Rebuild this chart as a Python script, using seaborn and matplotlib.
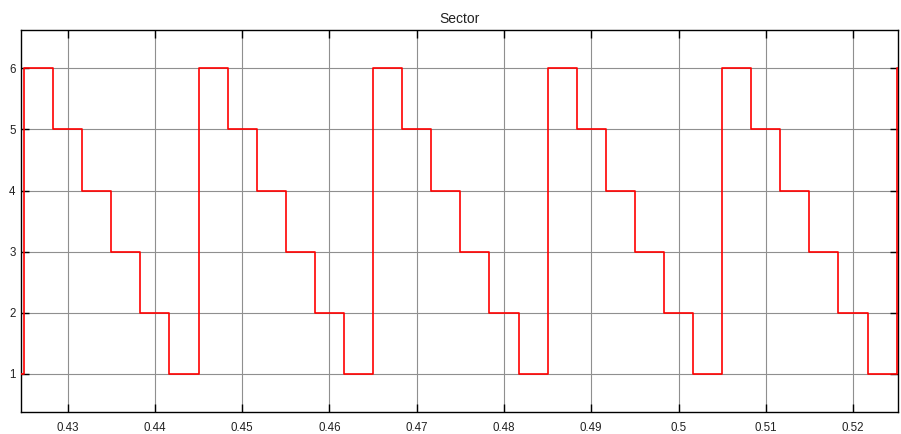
import matplotlib
matplotlib.use("Agg")
import matplotlib.pyplot as plt
import seaborn as sns
import pandas as pd

# Switching instants (s) and the sector index held from each instant on
t_switch = [0.4246, 0.4250, 0.42833, 0.43167, 0.4350, 0.43833, 0.44167,
            0.4450, 0.44833, 0.45167, 0.4550, 0.45833, 0.46167,
            0.4650, 0.46833, 0.47167, 0.4750, 0.47833, 0.48167,
            0.4850, 0.48833, 0.49167, 0.4950, 0.49833, 0.50167,
            0.5050, 0.50833, 0.51167, 0.5150, 0.51833, 0.52167,
            0.5250, 0.5252]
sector = [1, 6, 5, 4, 3, 2, 1,
          6, 5, 4, 3, 2, 1,
          6, 5, 4, 3, 2, 1,
          6, 5, 4, 3, 2, 1,
          6, 5, 4, 3, 2, 1,
          6, 6]

x_ticks = [0.43, 0.44, 0.45, 0.46, 0.47, 0.48, 0.49, 0.50, 0.51, 0.52]
x_tick_labels = ["0.43", "0.44", "0.45", "0.46", "0.47", "0.48", "0.49", "0.5", "0.51", "0.52"]
y_ticks = [1, 2, 3, 4, 5, 6]

df = pd.DataFrame({"t": t_switch, "sector": sector})

sns.set_theme(style="white")
plt.rcParams["font.family"] = ["Liberation Sans", "DejaVu Sans"]

fig = plt.figure(figsize=(9.01, 4.34), dpi=100)
ax = fig.add_axes([20.5 / 901, 22 / 434, 877.5 / 901, 382 / 434])

sns.lineplot(data=df, x="t", y="sector", ax=ax, color="#ff0000",
             linewidth=1.2, drawstyle="steps-post", estimator=None,
             sort=False, zorder=3)

ax.set_xlim(0.4246, 0.52515)
ax.set_ylim(0.378, 6.627)
ax.set_xticks(x_ticks)
ax.set_xticklabels(x_tick_labels)
ax.set_yticks(y_ticks)
ax.set_xlabel("")
ax.set_ylabel("")

ax.grid(True, color="#8f8f8f", linewidth=0.8, zorder=0)
ax.set_axisbelow(True)

for s in ax.spines.values():
    s.set_visible(True)
    s.set_color("black")
    s.set_linewidth(1.0)

ax.tick_params(axis="both", which="major", direction="in", length=5.8,
               width=1.0, color="black", labelsize=8.3, labelcolor="#222222",
               top=True, right=True, bottom=True, left=True)
ax.tick_params(axis="x", pad=7)
ax.tick_params(axis="y", pad=3.5)

ax.set_title("Sector", fontsize=10, color="#222222", pad=5)

fig.patch.set_facecolor("white")
ax.set_facecolor("white")
fig.savefig("out.png", dpi=100, facecolor="white")
